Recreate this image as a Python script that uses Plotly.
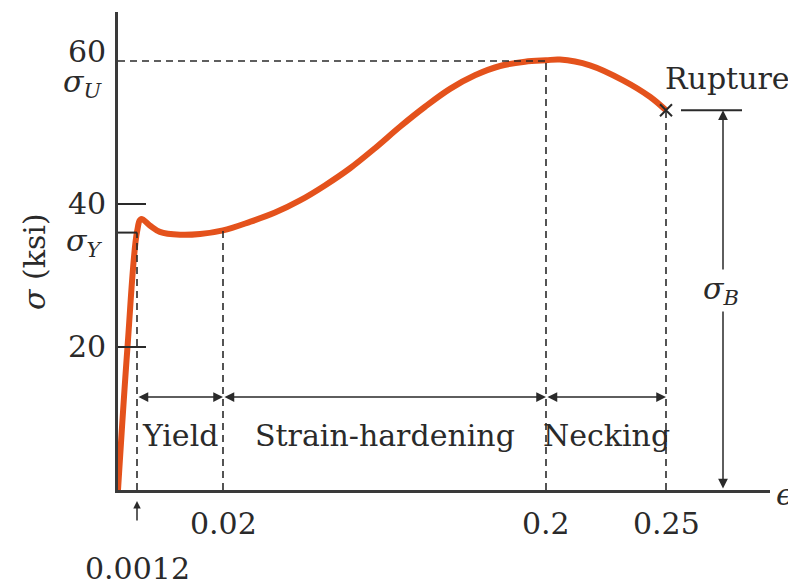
import numpy as np
import plotly.graph_objects as go

# ---------------- data ----------------
STRAIN = [0.0, 0.0006, 0.0012, 0.0021, 0.0040, 0.0062, 0.0106, 0.0150, 0.0200,
          0.0350, 0.0490, 0.0629, 0.0768, 0.0908, 0.1047, 0.1186, 0.1326,
          0.1465, 0.1604, 0.1744, 0.1883, 0.2000, 0.2058, 0.2183, 0.2321,
          0.2433, 0.2500]
STRESS = [0.0, 20.0, 36.1, 37.9, 37.0, 36.1, 35.7, 35.8, 36.3,
          37.5, 38.8, 40.5, 42.6, 45.0, 47.8, 50.8, 53.6,
          56.1, 58.0, 59.3, 59.9, 60.1, 60.2, 59.4, 57.3,
          55.0, 53.1]

SIGMA_Y = 36.0
SIGMA_U = 60.0
SIGMA_B = 53.1

STRESS_TICKS = [20, 40, 60]
STRESS_TICK_LABELS = ["20", "40", "60"]

STRAIN_MARKS = [0.0012, 0.02, 0.2, 0.25]
STRAIN_LABELS = ["0.0012", "0.02", "0.2", "0.25"]

REGION_NAMES = ["Yield", "Strain-hardening", "Necking"]
REGION_START = [0.0012, 0.02, 0.2]
REGION_END = [0.02, 0.2, 0.25]

# ---------------- schematic (non-linear) strain axis ----------------
STRAIN_KNOTS = [0.0, 0.0012, 0.02, 0.2, 0.25, 0.30]
POS_KNOTS = [0.0, 19.0, 105.0, 428.0, 548.0, 668.0]


def warp(s):
    return np.interp(s, STRAIN_KNOTS, POS_KNOTS)


FONT = "DejaVu Serif, Liberation Serif, serif"
FS = 30
INK = "#2a2a2a"
CURVE = "#E4521C"

xs = warp(np.array(STRAIN))

fig = go.Figure()
fig.add_trace(go.Scatter(x=xs, y=STRESS, mode="lines",
                         line=dict(color=CURVE, width=6, shape="spline", smoothing=1.0),
                         hoverinfo="skip", showlegend=False))
fig.add_trace(go.Scatter(x=[warp(0.25)], y=[SIGMA_B], mode="markers",
                         marker=dict(symbol="x-thin", size=12, line=dict(width=2, color=INK)),
                         hoverinfo="skip", showlegend=False))

shapes = []
dash = dict(color=INK, width=1.6, dash="7px,5px")
shapes.append(dict(type="line", xref="x", yref="y", x0=0, x1=warp(0.2), y0=SIGMA_U, y1=SIGMA_U,
                   line=dash, layer="above"))
tops = [SIGMA_Y, float(np.interp(0.02, STRAIN, STRESS)), SIGMA_U, SIGMA_B]
for s, t in zip(STRAIN_MARKS, tops):
    shapes.append(dict(type="line", xref="x", yref="y", x0=warp(s), x1=warp(s), y0=0, y1=t,
                       line=dash, layer="above"))
shapes.append(dict(type="line", xref="x", yref="y", x0=0, x1=warp(0.0012), y0=SIGMA_Y, y1=SIGMA_Y,
                   line=dict(color=INK, width=2)))
xb = warp(0.25) + 57
shapes.append(dict(type="line", xref="x", yref="y", x0=warp(0.25) + 15, x1=warp(0.25) + 76,
                   y0=SIGMA_B, y1=SIGMA_B, line=dict(color=INK, width=2)))

ann = []
shifts = {20: 0, 40: 0, 60: 9}
for v, t in zip(STRESS_TICKS, STRESS_TICK_LABELS):
    ann.append(dict(xref="paper", x=0, yref="y", y=v, text=t, showarrow=False,
                    xanchor="right", yanchor="middle", xshift=-10, yshift=shifts[v],
                    font=dict(family=FONT, size=FS, color=INK)))
ann.append(dict(xref="paper", x=0, yref="y", y=SIGMA_U, text="<i>σ<sub>U</sub></i>", showarrow=False,
                xanchor="right", yanchor="middle", xshift=-14, yshift=-23,
                font=dict(family=FONT, size=FS, color=INK)))
ann.append(dict(xref="paper", x=0, yref="y", y=SIGMA_Y, text="<i>σ<sub>Y</sub></i>", showarrow=False,
                xanchor="right", yanchor="middle", xshift=-14, yshift=-10,
                font=dict(family=FONT, size=FS, color=INK)))
ann.append(dict(xref="paper", x=0, yref="paper", y=0.477, text="<i>σ</i> (ksi)", showarrow=False,
                textangle=-90, xanchor="center", yanchor="middle", xshift=-83,
                font=dict(family=FONT, size=FS, color=INK)))
for s, t in zip(STRAIN_MARKS, STRAIN_LABELS):
    ys = -78 if s == 0.0012 else -33
    ann.append(dict(xref="x", x=warp(s), yref="y", y=0, text=t, showarrow=False,
                    xanchor="center", yanchor="middle", yshift=ys,
                    font=dict(family=FONT, size=FS, color=INK)))
ann.append(dict(xref="x", x=warp(0.0012), yref="y", y=0, text="", showarrow=True,
                ax=0, ay=32, standoff=11, arrowhead=2, arrowsize=1, arrowwidth=1.5,
                arrowcolor=INK))
ann.append(dict(xref="paper", x=1, yref="y", y=0, text="<i>ϵ</i>", showarrow=False,
                xanchor="left", yanchor="middle", xshift=4, yshift=-4,
                font=dict(family=FONT, size=FS, color=INK)))
ARROW_Y = 13.0
for name, a, b in zip(REGION_NAMES, REGION_START, REGION_END):
    ann.append(dict(xref="x", x=warp(b), yref="y", y=ARROW_Y, axref="x", ax=warp(a), ayref="y",
                    ay=ARROW_Y, text="", showarrow=True, arrowside="end+start",
                    arrowhead=2, startarrowhead=2, arrowsize=1.3, startarrowsize=1.3,
                    arrowwidth=1.5, arrowcolor=INK))
    ann.append(dict(xref="x", x=(warp(a) + warp(b)) / 2, yref="y", y=ARROW_Y, text=name,
                    showarrow=False, xanchor="center", yanchor="middle", yshift=-38,
                    font=dict(family=FONT, size=FS, color=INK)))
ann.append(dict(xref="x", x=xb, yref="y", y=SIGMA_B, axref="x", ax=xb, ayref="y", ay=0,
                text="", showarrow=True, arrowside="end+start", arrowhead=2, startarrowhead=2,
                arrowsize=1.3, startarrowsize=1.3, arrowwidth=1.5, arrowcolor=INK))
ann.append(dict(xref="x", x=xb, yref="y", y=SIGMA_B / 2, text="<i>σ<sub>B</sub></i>", showarrow=False,
                xanchor="center", yanchor="middle", yshift=10, xshift=-2, bgcolor="white",
                font=dict(family=FONT, size=FS, color=INK)))
ann.append(dict(xref="x", x=warp(0.25), yref="y", y=SIGMA_B, text="Rupture", showarrow=False,
                xanchor="center", yanchor="middle", xshift=61, yshift=32,
                font=dict(family=FONT, size=FS, color=INK)))

# page has an 8px body margin, so the figure is 8px smaller and margins shifted
fig.update_layout(
    width=788, height=579,
    margin=dict(l=110, r=26, t=4, b=97),
    paper_bgcolor="white", plot_bgcolor="white",
    showlegend=False,
    shapes=shapes, annotations=ann,
    xaxis=dict(range=[0, 652], showgrid=False, zeroline=False, showticklabels=False,
               ticks="", showline=True, linecolor="#3a3a3a", linewidth=2.5),
    yaxis=dict(range=[0, 66.85], showgrid=False, zeroline=False, showticklabels=False,
               tickvals=STRESS_TICKS[:2], ticks="inside", ticklen=28, tickwidth=2,
               tickcolor=INK, showline=True, linecolor="#3a3a3a", linewidth=2.5),
)

fig.write_html("out.html")
